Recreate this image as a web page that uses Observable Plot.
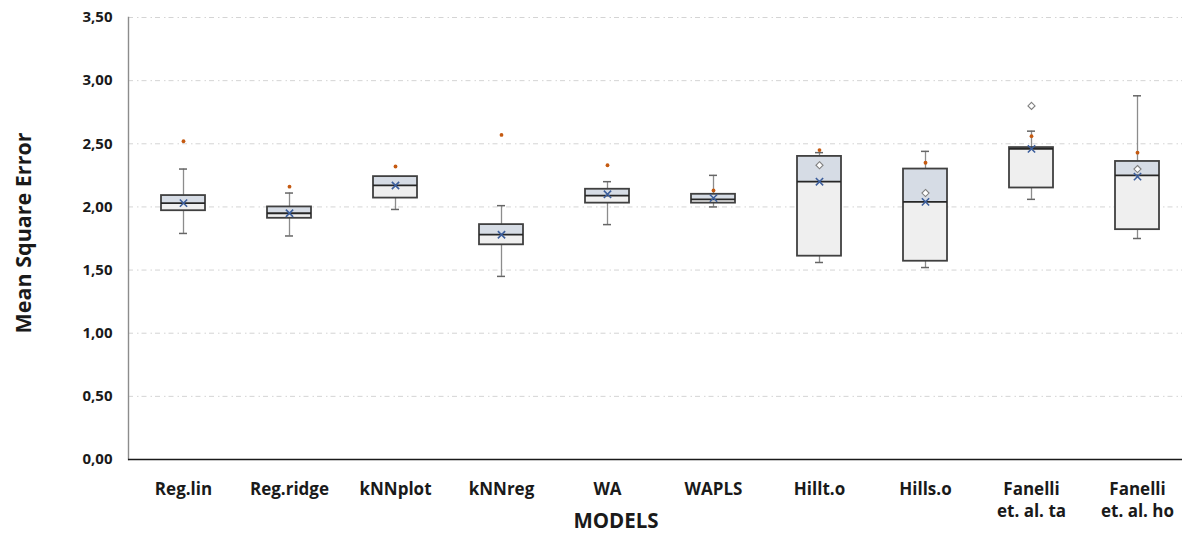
<!DOCTYPE html>
<html>
<head>
<meta charset="utf-8">
<script src="https://cdn.jsdelivr.net/npm/d3@7"></script>
<script src="https://cdn.jsdelivr.net/npm/@observablehq/plot@0.6"></script>
<style>
  html, body { margin: 0; padding: 0; background: #fff; overflow: hidden; }
</style>
</head>
<body>
<div id="chart"></div>
<script>
const categories = ["Reg.lin", "Reg.ridge", "kNNplot", "kNNreg", "WA", "WAPLS", "Hillt.o", "Hills.o", "Fanelli ta", "Fanelli ho"];
const tickLabels = ["Reg.lin", "Reg.ridge", "kNNplot", "kNNreg", "WA", "WAPLS", "Hillt.o", "Hills.o", "Fanelli\net. al. ta", "Fanelli\net. al. ho"];
const whiskerLow  = [1.79, 1.77, 1.98, 1.45, 1.86, 2.00, 1.56, 1.52, 2.06, 1.75];
const quartile1   = [1.97, 1.91, 2.07, 1.70, 2.03, 2.03, 1.61, 1.57, 2.15, 1.82];
const medians     = [2.03, 1.95, 2.17, 1.78, 2.09, 2.06, 2.20, 2.04, 2.46, 2.25];
const quartile3   = [2.09, 2.00, 2.24, 1.86, 2.14, 2.10, 2.40, 2.30, 2.47, 2.36];
const whiskerHigh = [2.30, 2.11, 2.24, 2.01, 2.20, 2.25, 2.43, 2.44, 2.60, 2.88];
const means       = [2.03, 1.95, 2.17, 1.78, 2.10, 2.07, 2.20, 2.04, 2.46, 2.24];
const orangeDots  = [2.52, 2.16, 2.32, 2.57, 2.33, 2.13, 2.45, 2.35, 2.56, 2.43];
const diamonds    = [null, null, null, null, null, null, 2.33, 2.11, 2.80, 2.30];
const yTicks = [0, 0.5, 1, 1.5, 2, 2.5, 3, 3.5];

const rows = categories.map((c, i) => ({
  cat: c, min: whiskerLow[i], q1: quartile1[i], med: medians[i], q3: quartile3[i],
  max: whiskerHigh[i], mean: means[i], dot: orangeDots[i], diamond: diamonds[i]
}));
const labelOf = Object.fromEntries(categories.map((c, i) => [c, tickLabels[i]]));

const chart = Plot.plot({
  width: 1182,
  height: 533,
  marginLeft: 128,
  marginRight: 0,
  marginTop: 17,
  marginBottom: 74,
  style: { fontFamily: "Open Sans", background: "white", color: "#1a1a1a" },
  x: { type: "band", domain: categories, range: [128, 1191], padding: 0 },
  y: { domain: [0, 3.5] },
  marks: [
    Plot.ruleY(yTicks.filter(d => d > 0), { stroke: "#d4d4d4", strokeWidth: 1, strokeDasharray: "5,4,1.5,3" }),
    Plot.frame({ anchor: "left", stroke: "#8c8c8c", strokeWidth: 1.4 }),
    Plot.ruleY([0], { stroke: "#1a1a1a", strokeWidth: 1.4 }),
    // whiskers
    Plot.ruleX(rows, { x: "cat", y1: "q3", y2: "max", stroke: "#8c8c8c", strokeWidth: 1.3 }),
    Plot.ruleX(rows, { x: "cat", y1: "min", y2: "q1", stroke: "#8c8c8c", strokeWidth: 1.3 }),
    Plot.tickY(rows, { x: "cat", y: "max", inset: 49, stroke: "#666", strokeWidth: 1.5 }),
    Plot.tickY(rows, { x: "cat", y: "min", inset: 49, stroke: "#666", strokeWidth: 1.5 }),
    // boxes
    Plot.barY(rows, { x: "cat", y1: "med", y2: "q3", fill: "#d6dce5", insetLeft: 31, insetRight: 31 }),
    Plot.barY(rows, { x: "cat", y1: "q1", y2: "med", fill: "#efefef", insetLeft: 31, insetRight: 31 }),
    Plot.barY(rows, { x: "cat", y1: "q1", y2: "q3", fill: "none", stroke: "#404040", strokeWidth: 1.8, insetLeft: 31, insetRight: 31 }),
    Plot.tickY(rows, { x: "cat", y: "med", inset: 31, stroke: "#262626", strokeWidth: 1.8 }),
    // markers
    Plot.dot(rows.filter(d => d.diamond != null), { x: "cat", y: "diamond", symbol: "diamond2", r: 3.2, stroke: "#808080", strokeWidth: 1.1, fill: "white" }),
    Plot.dot(rows, { x: "cat", y: "dot", r: 1.9, fill: "#c55a11", stroke: "none" }),
    Plot.dot(rows, { x: "cat", y: "mean", symbol: "times", r: 3.4, stroke: "#3d5f9c", strokeWidth: 1.6 }),
    // axes
    Plot.axisY({ ticks: yTicks, tickSize: 0, tickPadding: 16, fontSize: 15, fontWeight: "bold", fill: "#1a1a1a",
      tickFormat: d => d.toFixed(2).replace(".", ","), label: null }),
    Plot.axisX({ tickSize: 0, tickPadding: 19.5, fontSize: 17, fontWeight: "bold", fill: "#1a1a1a", lineHeight: 1.31,
      tickFormat: d => labelOf[d], label: null }),
    Plot.text(["Mean Square Error"], { text: d => d, frameAnchor: "left", textAnchor: "middle", lineAnchor: "middle",
      dx: -104, dy: -5.5, rotate: -90, fontSize: 21.5, fontWeight: "bold", fill: "#1a1a1a" }),
    Plot.text(["MODELS"], { text: d => d, frameAnchor: "bottom", textAnchor: "middle", lineAnchor: "middle",
      dx: -39.5, dy: 61.5, fontSize: 20.5, fontWeight: "bold", fill: "#1a1a1a" })
  ]
});
document.getElementById("chart").appendChild(chart);
</script>
</body>
</html>
